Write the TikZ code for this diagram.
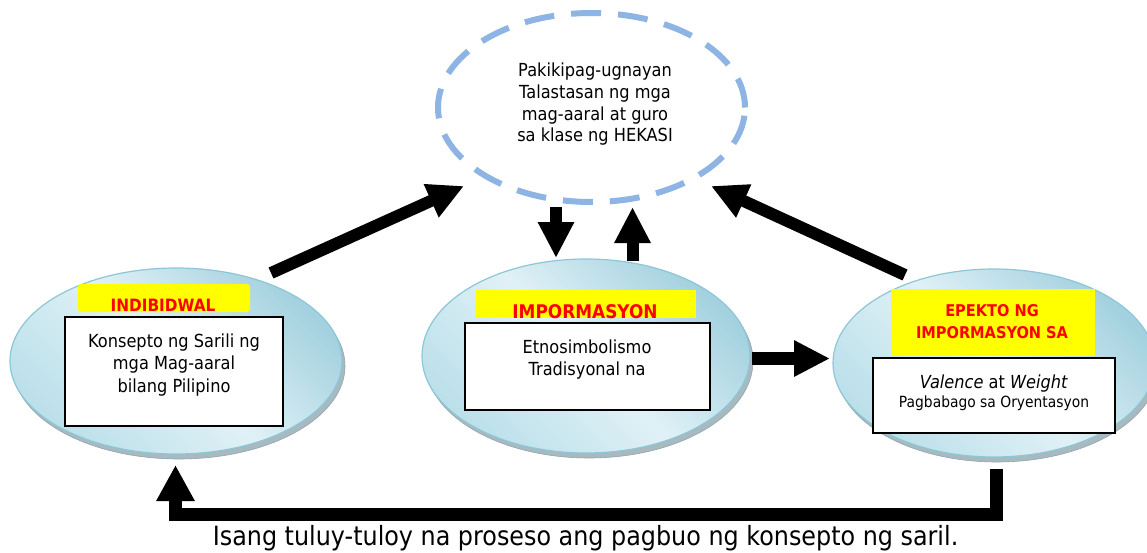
\documentclass[tikz,border=0pt]{standalone}
\usepackage{fontspec}
\setmainfont{DejaVu Sans}[FakeStretch=0.9]
\usetikzlibrary{shapes.geometric,arrows.meta}
\definecolor{discdark}{HTML}{A3D1DF}
\definecolor{disclight}{HTML}{E0F1F6}
\definecolor{discmid}{HTML}{BCE0EA}
\definecolor{discedge}{HTML}{8CC7D7}
\definecolor{rimcol}{HTML}{A9B9C0}
\definecolor{rimedge}{HTML}{8FA6AF}
\definecolor{dashcol}{HTML}{8DB4E2}
\definecolor{labyellow}{HTML}{FFFF00}
\definecolor{labred}{HTML}{FF0000}
\begin{document}
\begin{tikzpicture}[x=1pt,y=-1pt,
  disc/.style={ellipse, inner sep=0pt, draw=discedge, line width=1.2pt,
    top color=discdark, bottom color=discmid, middle color=disclight, shading angle=-45},
  rim/.style={ellipse, inner sep=0pt, fill=rimcol, draw=rimedge, line width=0.6pt},
  labbox/.style={fill=labyellow, inner sep=0pt},
  labtext/.style={text=labred, inner sep=0pt, anchor=base},
  wbox/.style={draw=black, fill=white, line width=1.3pt, inner sep=0pt},
  txt/.style={align=center, inner sep=0pt},
  blk/.style={line width=12pt, draw=black, line join=miter},
  headarrow/.style={-{Triangle[length=36pt,width=34pt]}}
]
\useasboundingbox (0,0) rectangle (1147,552);
\clip (0,0) rectangle (1147,552);
\fill[white] (0,0) rectangle (1147,552);

% top dashed ellipse
\node[ellipse, draw=dashcol, line width=6pt, dash pattern=on 30pt off 17pt,
  minimum width=307pt, minimum height=189pt, inner sep=0pt] (top) at (591.5,107.5) {};
\node[txt, font=\fontsize{18}{21.9}\selectfont] (toptext) at (595,104.1)
  {Pakikipag-ugnayan\\Talastasan ng mga\\mag-aaral at guro\\sa klase ng HEKASI};

% discs
\node[rim, minimum width=332pt, minimum height=186pt] (lrim) at (179,366) {};
\node[disc, minimum width=332pt, minimum height=186pt] (ldisc) at (176,361) {};
\node[rim, minimum width=328pt, minimum height=194pt] (mrim) at (589,361) {};
\node[disc, minimum width=328pt, minimum height=194pt] (mdisc) at (586,356) {};
\node[rim, minimum width=322pt, minimum height=188pt] (rrim) at (997,368) {};
\node[disc, minimum width=322pt, minimum height=188pt] (rdisc) at (994,363) {};

% left disc content
\node[labbox, rounded corners=3pt, minimum width=172pt, minimum height=28pt] (l1) at (164,298) {};
\node[labtext, font=\bfseries\fontsize{17}{20}\selectfont] (l1t) at (163,311) {INDIBIDWAL};
\node[wbox, minimum width=218pt, minimum height=109pt] (b1) at (174,371.5) {};
\node[txt, font=\fontsize{18}{22.5}\selectfont] (b1t) at (174,365)
  {Konsepto ng Sarili ng\\mga Mag-aaral\\bilang Pilipino};

% middle disc content
\node[labbox, minimum width=220pt, minimum height=28pt] (l2) at (586,304) {};
\node[labtext, font=\bfseries\fontsize{18.8}{22}\selectfont] (l2t) at (585,318.5) {IMPORMASYON};
\node[wbox, minimum width=245pt, minimum height=87pt] (b2) at (587.5,366.5) {};
\node[txt, font=\fontsize{18}{21.7}\selectfont] (b2t) at (587,359.5)
  {Etnosimbolismo\\Tradisyonal na};

% right disc content
\node[labbox, minimum width=204pt, minimum height=67pt] (l3) at (993,322.5) {};
\node[labtext, font=\bfseries\fontsize{16.2}{20}\selectfont] (l3a) at (992,316) {EPEKTO NG};
\node[labtext, font=\bfseries\fontsize{16.2}{20}\selectfont] (l3b) at (992,338) {IMPORMASYON SA};
\node[wbox, minimum width=242pt, minimum height=75pt] (b3) at (994,395.5) {};
\node[txt, anchor=base, font=\fontsize{18}{22}\selectfont] (b3a) at (994,388.3)
  {\textit{Valence} at \textit{Weight}};
\node[txt, anchor=base, font=\fontsize{15.4}{19}\selectfont] (b3b) at (994,407.7)
  {Pagbabago sa Oryentasyon};

% arrow end points
\coordinate (a1s) at (271,273);
\coordinate (a1e) at (464,186);
\coordinate (a2s) at (905,275);
\coordinate (a2e) at (711,186);
\coordinate (dns) at (556,207);
\coordinate (dne) at (556,258);
\coordinate (ups) at (632.5,261);
\coordinate (upe) at (632.5,207);
\coordinate (rts) at (752,358.5);
\coordinate (rte) at (830,358.5);
\coordinate (bs) at (996.5,469);
\coordinate (bc1) at (996.5,514);
\coordinate (bc2) at (175.5,514);
\coordinate (be) at (175.5,465);

\draw[blk, headarrow] (a1s) -- (a1e);
\draw[blk, headarrow] (a2s) -- (a2e);
\draw[blk, headarrow] (dns) -- (dne);
\draw[blk, headarrow] (ups) -- (upe);
\draw[blk, line width=13pt, headarrow] (rts) -- (rte);
\draw[blk, line width=13pt, -{Triangle[length=36pt,width=36pt]}] (bs) -- (bc1) -- (bc2) -- (be);

% bottom caption
\node[txt, anchor=base, font=\fontsize{26.5}{30}\selectfont] (cap) at (585.5,545.5)
  {Isang tuluy-tuloy na proseso ang pagbuo ng konsepto ng saril.};
\end{tikzpicture}
\end{document}
